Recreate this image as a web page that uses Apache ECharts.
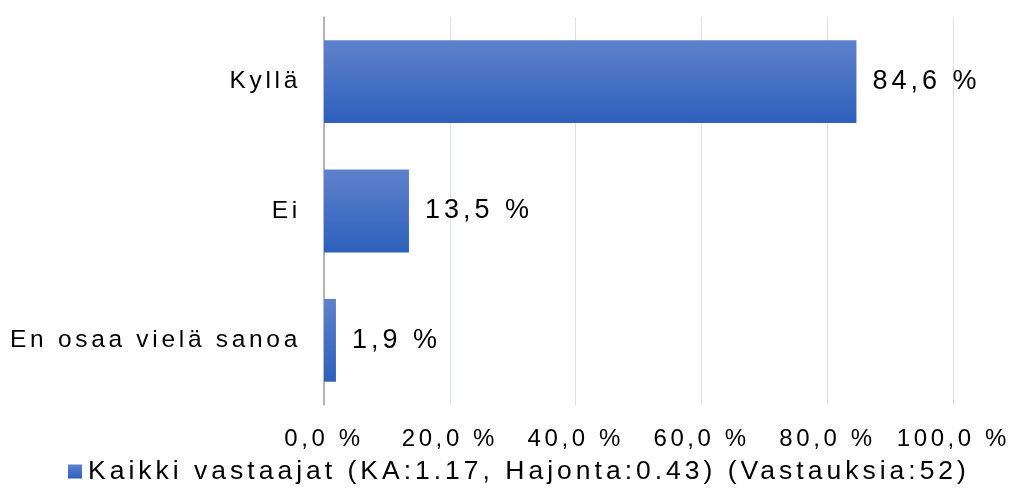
<!DOCTYPE html>
<html>
<head>
<meta charset="utf-8">
<script src="https://cdn.jsdelivr.net/npm/echarts@6/dist/echarts.min.js"></script>
<style>
  html, body { margin: 0; padding: 0; background: #fff; }
  #chart { width: 1013px; height: 494px; }
</style>
</head>
<body>
<div id="chart"></div>
<script>
// data
const categories = ['Kyllä', 'Ei', 'En osaa vielä sanoa'];
const values = [84.6, 13.5, 1.9];
const xTicks = [0, 20, 40, 60, 80, 100];
const seriesName = 'Kaikki vastaajat (KA:1.17, Hajonta:0.43) (Vastauksia:52)';

// the original text is spaced out a bit, canvas letterSpacing does that
const spacing = (ctx) => {
  const m = /(\d+(\.\d+)?)px/.exec(ctx.font);
  const size = m ? parseFloat(m[1]) : 12;
  ctx.letterSpacing = (size * 0.15).toFixed(1) + 'px';
};
const origFill = CanvasRenderingContext2D.prototype.fillText;
const origMeasure = CanvasRenderingContext2D.prototype.measureText;
CanvasRenderingContext2D.prototype.fillText = function () {
  spacing(this);
  return origFill.apply(this, arguments);
};
CanvasRenderingContext2D.prototype.measureText = function () {
  spacing(this);
  return origMeasure.apply(this, arguments);
};

const fmt = (v) => v.toFixed(1).replace('.', ',') + ' %';

const chartDom = document.getElementById('chart');
const myChart = echarts.init(chartDom, null, { renderer: 'canvas' });

const option = {
  animation: false,
  textStyle: { fontFamily: '"Liberation Sans", Arial, sans-serif' },
  grid: { left: 324, right: 58, top: 17, bottom: 89, containLabel: false },
  legend: {
    bottom: 2,
    left: 63,
    icon: 'rect',
    itemWidth: 14,
    itemHeight: 14,
    itemGap: 10,
    textStyle: { fontSize: 26.5, color: '#000', padding: [0, 0, 0, 1] },
    data: [seriesName]
  },
  xAxis: {
    type: 'value',
    min: 0,
    max: 100,
    interval: 20,
    axisLine: { show: false },
    axisTick: { show: false },
    splitLine: { lineStyle: { color: '#d9e2f3', width: 1 } },
    axisLabel: {
      fontSize: 24,
      color: '#000',
      margin: 21,
      formatter: (v) => xTicks.includes(v) ? fmt(v) : ''
    }
  },
  yAxis: {
    type: 'category',
    inverse: true,
    data: categories,
    axisLine: { show: true, lineStyle: { color: '#a0a0a0', width: 1.5 } },
    axisTick: { show: false },
    axisLabel: { fontSize: 24.5, color: '#000', margin: 23 }
  },
  series: [
    {
      name: seriesName,
      type: 'bar',
      data: values,
      barCategoryGap: '36%',
      itemStyle: {
        color: new echarts.graphic.LinearGradient(0, 0, 0, 1, [
          { offset: 0, color: '#5f81cb' },
          { offset: 1, color: '#2d60bc' }
        ])
      },
      label: {
        show: true,
        position: 'right',
        distance: 16,
        fontSize: 27,
        color: '#000',
        formatter: (p) => fmt(p.value)
      }
    }
  ]
};

option && myChart.setOption(option);
</script>
</body>
</html>
